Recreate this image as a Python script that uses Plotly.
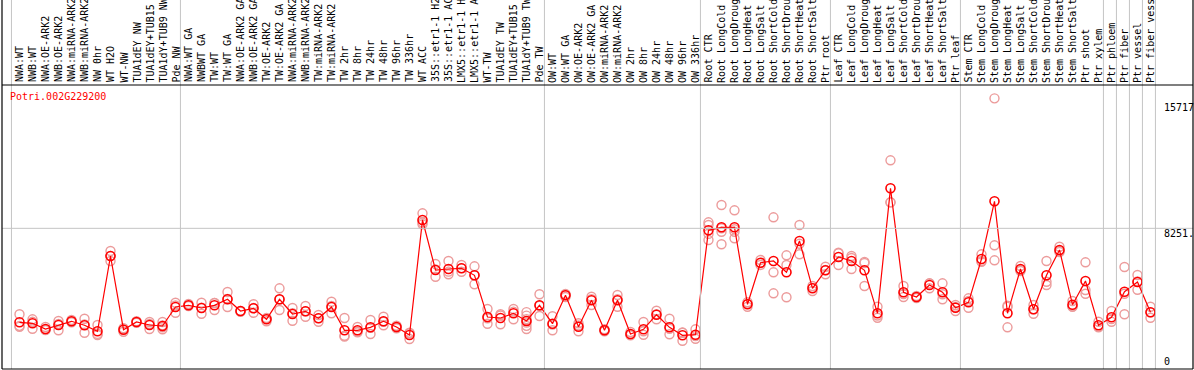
import plotly.graph_objects as go

gene = "Potri.002G229200"

labels = [
    "NWA:WT", "NWB:WT", "NWA:OE-ARK2", "NWB:OE-ARK2", "NWA:miRNA-ARK2", "NWB:miRNA-ARK2",
    "NW 0hr", "WT H2O", "WT-NW", "TUA1dEY NW", "TUA1dEY+TUB15 NW", "TUA1dY+TUB9 NW", "Pde NW",
    "NWA:WT GA", "NWBWT GA", "TW:WT", "TW:WT GA", "NWA:OE-ARK2 GA", "NWB:OE-ARK2 GA",
    "TW:OE-ARK2", "TW:OE-ARK2 GA", "NWA:miRNA-ARK2 GA", "NWB:miRNA-ARK2 GA", "TW:miRNA-ARK2",
    "TW:miRNA-ARK2 GA", "TW 2hr", "TW 8hr", "TW 24hr", "TW 48hr", "TW 96hr", "TW 336hr",
    "WT ACC", "35S::etr1-1 H2O", "35S::etr1-1 ACC", "LMX5::etr1-1 H2O", "LMX5::etr1-1 ACC",
    "WT-TW", "TUA1dEY TW", "TUA1dEY+TUB15 TW", "TUA1dY+TUB9 TW", "Pde TW",
    "OW:WT", "OW:WT GA", "OW:OE-ARK2", "OW:OE-ARK2 GA", "OW:miRNA-ARK2", "OW:miRNA-ARK2 GA",
    "OW 2hr", "OW 8hr", "OW 24hr", "OW 48hr", "OW 96hr", "OW 336hr",
    "Root CTR", "Root LongCold", "Root LongDrought", "Root LongHeat", "Root LongSalt",
    "Root ShortCold", "Root ShortDrought", "Root ShortHeat", "Root ShortSalt", "Ptr root",
    "Leaf CTR", "Leaf LongCold", "Leaf LongDrought", "Leaf LongHeat", "Leaf LongSalt",
    "Leaf ShortCold", "Leaf ShortDrought", "Leaf ShortHeat", "Leaf ShortSalt", "Ptr leaf",
    "Stem CTR", "Stem LongCold", "Stem LongDrought", "Stem LongHeat", "Stem LongSalt",
    "Stem ShortCold", "Stem ShortDrought", "Stem ShortHeat", "Stem ShortSalt", "Ptr shoot",
    "Ptr xylem", "Ptr phloem", "Ptr fiber", "Ptr vessel", "Ptr fiber vessel",
]

means = [
    2651, 2592, 2252, 2490, 2711, 2473, 2115, 6601, 2210, 2669, 2490, 2431, 3563,
    3664, 3503, 3664, 4022, 3325, 3485, 2830, 4022, 3146, 3307, 2890, 3563, 2175, 2175,
    2353, 2711, 2371, 1895, 8746, 5767, 5827, 5869, 5452, 2967, 2907, 3188, 2729, 3664,
    2568, 4260, 2389, 3962, 2175, 3962, 1954, 2234, 3104, 2353, 1877, 1913,
    8133, 8311, 8311, 3724, 6202, 6304, 5630, 7495, 4677, 5749,
    6542, 6304, 5749, 3188, 10635, 4439, 4159, 4874, 4439, 3521,
    3843, 6423, 9861, 3188, 5827, 3426, 5452, 6959, 3700, 5112, 2473,
    2949, 4474, 5052, 3247,
]

replicates = [
    [3128, 2389, 2440], [2830, 2270, 2680], [2371, 2193, 2200], [2729, 2175, 2560],
    [2788, 2651, 2700], [2866, 2032, 2520], [2490, 1895, 1960], [6899, 6304, 6600],
    [2294, 2091, 2240], [2711, 2627], [2669, 2252, 2550], [2669, 2234, 2353, 2470],
    [3819, 3223, 3650],
    [3742, 3622], [3819, 3164, 3520], [3801, 3384, 3800], [4457, 3563, 4040],
    [3325, 3280], [3724, 3223, 3500], [2907, 2711, 2870], [4677, 3384, 4000],
    [3503, 2747, 3190], [3622, 2985, 3310], [3086, 2687, 2900], [3879, 3188, 3620],
    [2907, 1853, 1800], [2371, 2091, 2060], [2788, 1954, 2320], [2985, 2473, 2680],
    [2449, 2294, 2370], [2032, 1656, 2000], [9146, 8490, 8600], [6125, 5368, 5800],
    [6304, 5511, 5670], [6065, 5666, 5880], [5988, 4915, 5450], [3444, 2568, 2890],
    [3128, 2532, 3060], [3444, 2830, 3290], [3260, 3050, 2840, 2630, 2440, 2250],
    [4320, 3027, 3640],
    [3009, 2175, 2520], [4337, 4159, 4280], [2592, 2115, 2460], [4177, 3682, 4030],
    [2234, 2115, 2180], [4278, 3581, 4030], [2073, 1877, 1910], [2669, 1913, 2120],
    [3342, 2830, 3140], [2866, 1936, 2260], [2032, 1555, 2040], [2234, 1674, 1830],
    [8609, 8448, 7555, 7920], [9640, 7299, 8049, 8250], [9324, 7656, 8049, 8200],
    [3843, 3581, 3750], [6363, 6065, 6180], [8907, 5630, 4379], [6643, 6065, 4141],
    [8448, 6703, 7330], [4814, 4516, 4700], [5964, 5511, 5770],
    [6762, 6065, 6800], [6601, 5827, 6480], [6184, 4814, 6250], [3581, 2925, 3060],
    [12303, 9801, 9800], [4814, 4159, 4340], [4218, 4099, 4160], [4975, 4677, 4970],
    [4975, 4022, 4320], [3682, 3325, 3560],
    [4081, 3521, 3930], [6703, 6262, 6300], [15997, 7239, 6345], [3640, 2353, 3570],
    [6006, 5708, 5770], [3682, 3164, 3430], [6304, 5070, 4874], [7155, 6899, 6830],
    [3920, 3581, 3600], [6226, 4355, 4576], [2687, 2353, 2380],
    [3325, 2687, 2840], [5946, 3128, 4350], [5469, 4594, 5090], [3581, 2925, 3240],
]

group_starts = [0, 13, 41, 53, 63, 73, 84, 85, 86, 87, 88]
scale_values = [15717, 8251, 0]
scale_text = ["15717", "8251.", "0"]

# ---------------- layout geometry ----------------
W, H = 1194, 370
ML, MR, MT, MB = 2, 1, 85, 1
X0, X1 = -1.346, 90.27
Y0, Y1 = -131, 16791
PH = H - MT - MB
FONT = "DejaVu Sans Mono"
GRID = "#c4c4c4"


def xpaper(xd):
    return (xd - X0) / (X1 - X0)


n = len(labels)
xs = list(range(n))
rx = [i for i, r in enumerate(replicates) for _ in r]
ry = [v for r in replicates for v in r]

fig = go.Figure()
fig.add_trace(go.Scatter(
    x=rx, y=ry, mode="markers", hoverinfo="skip",
    marker=dict(symbol="circle-open", size=9, color="rgb(236,155,155)",
                line=dict(width=1.4, color="rgb(236,155,155)")),
))
fig.add_trace(go.Scatter(
    x=xs, y=means, mode="lines+markers",
    line=dict(color="#ff0000", width=1.2),
    marker=dict(symbol="circle-open", size=9, color="#ff0000",
                line=dict(width=1.6, color="#ff0000")),
))

shapes = []
top = 1 + MT / PH + 0.01
for g in group_starts:
    px = xpaper(g - 0.62)
    shapes.append(dict(type="line", xref="paper", yref="paper", x0=px, x1=px,
                       y0=0, y1=top, line=dict(color=GRID, width=1)))
shapes.append(dict(type="line", xref="paper", yref="y", x0=0, x1=1,
                   y0=scale_values[1], y1=scale_values[1], line=dict(color=GRID, width=1)))
shapes += [
    dict(type="line", xref="paper", yref="paper", x0=0, x1=1, y0=1, y1=1, line=dict(color="black", width=1.2)),
    dict(type="line", xref="paper", yref="paper", x0=0, x1=1, y0=0, y1=0, line=dict(color="black", width=1.2)),
    dict(type="line", xref="paper", yref="paper", x0=0, x1=0, y0=0, y1=top, line=dict(color="black", width=1.2)),
    dict(type="line", xref="paper", yref="paper", x0=1, x1=1, y0=0, y1=top, line=dict(color="black", width=1.2)),
]

annotations = []
for i, lab in enumerate(labels):
    annotations.append(dict(
        x=i, xref="x", y=1 + 1.5 / PH, yref="paper", text=lab, showarrow=False,
        textangle=-90, xanchor="center", yanchor="bottom", borderpad=0,
        font=dict(family=FONT, size=10, color="black"),
    ))
annotations.append(dict(
    x=(9 - ML) / (W - ML - MR), xref="paper", y=1 - (97 - MT) / PH, yref="paper",
    text=gene, showarrow=False, xanchor="left", yanchor="middle", borderpad=0,
    font=dict(family=FONT, size=10, color="#ff0000"),
))
shifts = [-4.5, -5.2, 5.0]
for v, t, s in zip(scale_values, scale_text, shifts):
    annotations.append(dict(
        x=(1163 - ML) / (W - ML - MR), xref="paper", y=v, yref="y", yshift=s,
        text=t, showarrow=False, xanchor="left", yanchor="middle", borderpad=0,
        font=dict(family=FONT, size=10, color="black"),
    ))

fig.update_layout(
    width=W, height=H,
    margin=dict(l=ML, r=MR, t=MT, b=MB, pad=0),
    paper_bgcolor="white", plot_bgcolor="white",
    showlegend=False,
    xaxis=dict(range=[X0, X1], showgrid=False, zeroline=False, showticklabels=False,
               showline=False, ticks=""),
    yaxis=dict(range=[Y0, Y1], showgrid=False, zeroline=False, showticklabels=False,
               showline=False, ticks=""),
    shapes=shapes,
    annotations=annotations,
)

fig.write_html(
    "out.html",
    config={"displayModeBar": False},
    post_script="document.body.style.margin='0';document.body.style.overflow='hidden';",
)
